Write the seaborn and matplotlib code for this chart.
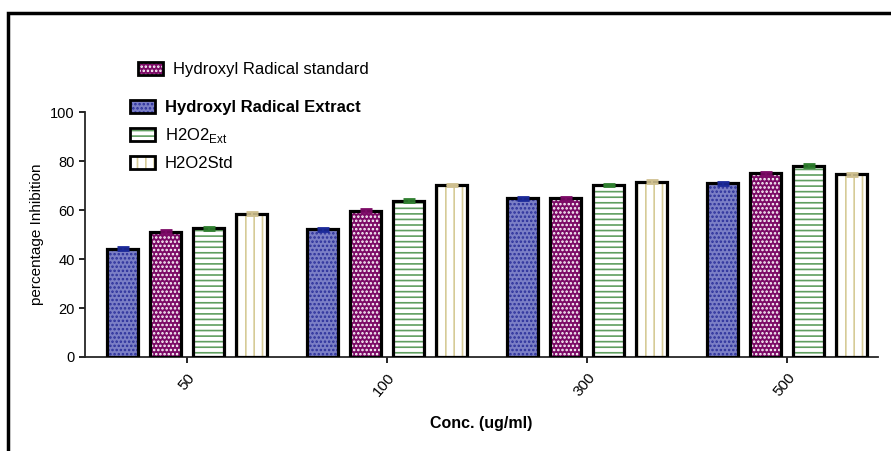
import seaborn as sns
import matplotlib.pyplot as plt
import pandas as pd
from matplotlib.patches import Rectangle, Patch
from matplotlib.legend_handler import HandlerTuple

conc = ["50", "100", "300", "500"]
series = ["Hydroxyl Radical Extract", "Hydroxyl Radical standard", "H2O2Ext", "H2O2Std"]
hr_extract = [44.1, 52.1, 64.8, 70.9]
hr_standard = [51.1, 59.7, 64.8, 75.0]
h2o2_ext = [52.5, 63.7, 70.2, 78.0]
h2o2_std = [58.4, 70.2, 71.6, 74.6]
sd = [0.6, 0.6, 0.6, 0.6]

values = [hr_extract, hr_standard, h2o2_ext, h2o2_std]
df = pd.DataFrame({
    "conc": conc * 4,
    "series": [s for s in series for _ in conc],
    "val": [v for vals in values for v in vals],
})

# face colour, hatch, hatch colour for each series
styles = {
    "Hydroxyl Radical Extract": ("#7b7fc6", "....", "#2a2f9a"),
    "Hydroxyl Radical standard": ("#7c0a66", "....", "#ffffff"),
    "H2O2Ext": ("#ffffff", "---", "#5f9e5f"),
    "H2O2Std": ("#ffffff", "||", "#d6cb97"),
}
cap_colors = ["#1c2a9a", "#7c0a66", "#2f7f2f", "#cfc090"]

sns.set_style("ticks")
plt.rcParams["font.family"] = ["Liberation Sans", "DejaVu Sans"]
plt.rcParams["hatch.linewidth"] = 1.2
plt.rcParams["text.color"] = "black"
plt.rcParams["axes.labelcolor"] = "black"

fig = plt.figure(figsize=(8.91, 4.51), dpi=100)
ax = fig.add_axes([85 / 891, 1 - 357 / 451, (878 - 85) / 891, (357 - 112) / 451])

sns.barplot(data=df, x="conc", y="val", hue="series", hue_order=series, order=conc,
            width=0.86, gap=0.3, ax=ax, legend=False, errorbar=None)

for cont, s, col in zip(ax.containers, series, cap_colors):
    face, hatch, hcol = styles[s]
    xs, ys = [], []
    for p in cont:
        p.set_facecolor(face)
        p.set_hatch(hatch)
        p.set_edgecolor(hcol)
        p.set_linewidth(0)
        ax.add_patch(Rectangle(p.get_xy(), p.get_width(), p.get_height(),
                               fill=False, edgecolor="black", linewidth=2.3, zorder=3))
        xs.append(p.get_x() + p.get_width() / 2)
        ys.append(p.get_height())
    ax.errorbar(xs, ys, yerr=sd, fmt="none", ecolor=col, capsize=4, elinewidth=1.5,
                capthick=2, zorder=4)

ax.set_ylim(0, 100)
ax.set_xlim(-0.51, 3.455)
ax.set_yticks([0, 20, 40, 60, 80, 100])
sns.despine(ax=ax)
ax.spines["left"].set_linewidth(1.3)
ax.spines["bottom"].set_linewidth(1.3)
ax.tick_params(axis="both", length=4, width=1.2, labelsize=10.5, colors="black")
ax.tick_params(axis="x", pad=6, labelsize=11)
plt.setp(ax.get_xticklabels(), rotation=50, ha="right", rotation_mode="anchor")
ax.set_ylabel("percentage Inhibition", fontsize=11)
ax.set_xlabel("Conc. (ug/ml)", fontsize=11.5, fontweight="bold", labelpad=12)

def handle(s):
    face, hatch, hcol = styles[s]
    fill = Patch(facecolor=face, hatch=hatch, edgecolor=hcol, linewidth=0)
    outline = Patch(fill=False, edgecolor="black", linewidth=2)
    return (fill, outline)

common = dict(loc="upper left", frameon=False, fontsize=12, handlelength=1.5,
              handleheight=0.8, handletextpad=0.6, borderaxespad=0, borderpad=0,
              handler_map={tuple: HandlerTuple(ndivide=1, pad=0)})
leg1 = fig.legend([handle(series[1])], ["Hydroxyl Radical standard"],
                  bbox_to_anchor=(138 / 891, 1 - 62 / 451), **common)
leg2 = fig.legend([handle(series[0]), handle(series[2]), handle(series[3])],
                  ["Hydroxyl Radical Extract", "H2O2$_{\\mathregular{Ext}}$", "H2O2Std"],
                  bbox_to_anchor=(130 / 891, 1 - 100 / 451), labelspacing=0.65, **common)
leg2.get_texts()[0].set_fontweight("bold")

# outer frame (cropped on the right and bottom)
fig.patches.append(Rectangle((8 / 891, -0.2), 1.2, 1.2 - 13 / 451, transform=fig.transFigure,
                             fill=False, edgecolor="black", linewidth=2.5))

fig.savefig("out.png", dpi=100)
